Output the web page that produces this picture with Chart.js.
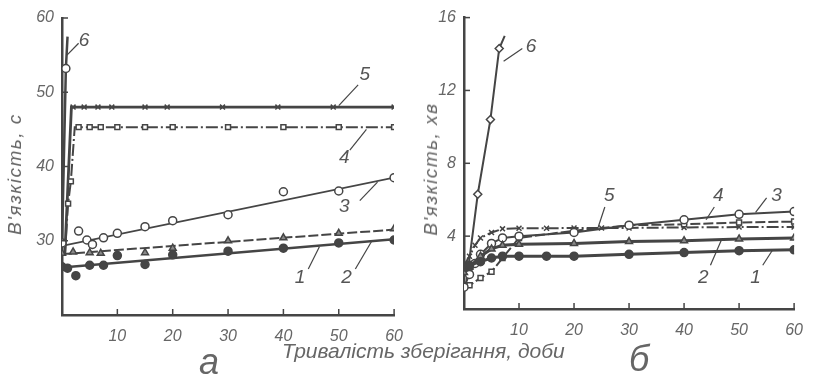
<!DOCTYPE html>
<html>
<head>
<meta charset="utf-8">
<script src="https://cdn.jsdelivr.net/npm/chart.js@4.4.0/dist/chart.umd.min.js"></script>
<style>
  body { margin: 0; background: #fff; width: 815px; height: 378px; overflow: hidden; position: relative; }
  canvas { position: absolute; top: 0; }
  .txt { position: absolute; font-family: "Liberation Sans", sans-serif; font-style: italic; color: #666; white-space: nowrap; }
  .ytitle { transform: translate(-50%, -50%) rotate(-90deg); font-size: 19px; letter-spacing: 1.5px; }
</style>
</head>
<body>
<canvas id="chartA" width="415" height="378" style="left:0"></canvas>
<canvas id="chartB" width="410" height="378" style="left:405px"></canvas>
<div class="txt ytitle" style="left:15px; top:174px;">В'язкість, с</div>
<div class="txt ytitle" style="left:431px; top:169px;">В'язкість, хв</div>
<div class="txt" style="left:282px; top:339px; font-size:21px;">Тривалість зберігання, доби</div>
<div class="txt" style="left:199px; top:341px; font-size:36px;">а</div>
<div class="txt" style="left:629px; top:338px; font-size:36px;">б</div>
<script>
// Панель а — в'язкість, с
const daysA1 = [0, 1, 2.5, 5, 7.5, 10, 15, 20, 30, 40, 50, 60];
const viscA1 = [26.5, 26.3, 25.3, 26.7, 26.7, 28.0, 26.8, 28.1, 28.6, 29.0, 29.7, 30.1];
const fitA1 = [26.4, 30.2];
const daysA2 = [0, 2, 5, 7, 15, 20, 30, 40, 50, 60];
const viscA2 = [28.3, 28.5, 28.4, 28.3, 28.4, 29.0, 30.0, 30.4, 31.0, 31.6];
const fitA2 = [28.2, 31.5];
const daysA3 = [0, 3, 4.5, 5.5, 7.5, 10, 15, 20, 30, 40, 50, 60];
const viscA3 = [29.7, 31.3, 30.1, 29.5, 30.4, 31.0, 31.9, 32.7, 33.5, 36.6, 36.7, 38.5];
const fitA3 = [29.3, 38.5];
const daysA4 = [0.5, 1.1, 1.6, 2.3, 3, 5, 7, 10, 15, 20, 30, 40, 50, 60];
const viscA4 = [28, 35, 38, 45.3, 45.3, 45.3, 45.3, 45.3, 45.3, 45.3, 45.3, 45.3, 45.3, 45.3];
const daysA5 = [0.5, 1.7, 2, 4, 6.5, 9, 15, 19, 29, 39, 49, 60];
const viscA5 = [28, 48, 48, 48, 48, 48, 48, 48, 48, 48, 48, 48];
const daysA6 = [0, 0.7, 1.0];
const viscA6 = [29.7, 53.2, 57.5];
const fitDays = [0, 60];

// Панель б — в'язкість, хв
const daysB1 = [0, 1, 3, 5, 7, 10, 15, 20, 30, 40, 50, 60];
const viscB1 = [2.3, 2.4, 2.6, 2.8, 2.9, 2.9, 2.9, 2.9, 3.0, 3.1, 3.2, 3.25];
const daysB2 = [0, 1, 3, 5, 7, 10, 20, 30, 40, 50, 60];
const viscB2 = [2.0, 2.3, 2.9, 3.3, 3.5, 3.55, 3.6, 3.7, 3.75, 3.85, 3.9];
const daysB3 = [0, 1, 2, 3, 5, 7, 10, 20, 30, 40, 50, 60];
const viscB3 = [1.2, 1.9, 2.5, 3.0, 3.6, 3.9, 4.0, 4.2, 4.6, 4.9, 5.2, 5.35];
const daysB4 = [0, 1, 3, 5, 7, 10, 20, 30, 40, 50, 60];
const viscB4 = [1.3, 1.3, 1.7, 2.05, 2.8, 3.9, 4.3, 4.6, 4.65, 4.75, 4.8];
const daysB5 = [0, 1, 2, 3, 5, 7, 10, 15, 20, 25, 30, 40, 50, 60];
const viscB5 = [2.4, 2.9, 3.5, 3.9, 4.2, 4.4, 4.43, 4.43, 4.45, 4.45, 4.45, 4.48, 4.5, 4.5];
const daysB6 = [0.5, 2.5, 4.8, 6.4, 7.4];
const viscB6 = [1.6, 6.3, 10.4, 14.3, 15];

// номери кривих: [текст, x, y, від x, від y, до x, до y]
const labelsA = [
  ["6", 4, 57, 3, 56.6, 0.9, 55],
  ["5", 54.7, 52.3, 53.5, 51, 50, 48.2],
  ["4", 51, 41.2, 52, 42.2, 55, 45],
  ["3", 51, 34.6, 53.8, 35.4, 57, 37.9],
  ["1", 43, 25, 44.5, 26.2, 46.5, 29.2],
  ["2", 51.4, 25, 53, 26.2, 56, 30],
];
const labelsB = [
  ["6", 12.2, 14.4, 10.6, 14.3, 7.2, 13.6],
  ["5", 26.4, 6.2, 25.6, 5.6, 24.4, 4.5],
  ["4", 46.2, 6.2, 45.5, 5.6, 44, 4.9],
  ["3", 56.8, 6.2, 55, 6.1, 53, 5.3],
  ["2", 43.5, 1.7, 44.8, 2.4, 46.8, 3.8],
  ["1", 53, 1.7, 54.3, 2.4, 56, 3.2],
];

const ink = "#454545";
const toXY = (xs, ys) => xs.map((x, i) => ({ x: x, y: ys[i] }));

function series(xs, ys, style, extra) {
  return Object.assign({
    data: toXY(xs, ys),
    showLine: true,
    borderColor: ink,
    borderWidth: 2,
    pointBorderColor: ink,
    pointBorderWidth: 1.5,
    pointBackgroundColor: "#fff",
    pointRadius: 4,
  }, style, extra || {});
}

const open = { pointStyle: "circle" };
const filled = { pointStyle: "circle", pointBackgroundColor: ink };
const tri = { pointStyle: "triangle", pointBackgroundColor: "#888" };
const square = { pointStyle: "rect", pointRadius: 3.5 };
const cross = { pointStyle: "crossRot", pointRadius: 3.5 };
const diamond = { pointStyle: "rectRot", pointRadius: 4 };
const noEnds = (n) => (ctx) => (ctx.dataIndex === 0 || ctx.dataIndex === n - 1 ? 0 : 4);

// Рисочки всередину осей і номери кривих
const axisMarks = {
  id: "axisMarks",
  afterDatasetsDraw(chart, args, options) {
    const { ctx, chartArea, scales } = chart;
    ctx.save();
    ctx.strokeStyle = ink;
    ctx.lineWidth = 1.5;
    scales.x.ticks.forEach((t) => {
      if (t.value === scales.x.min) return;
      const px = scales.x.getPixelForValue(t.value);
      ctx.beginPath();
      ctx.moveTo(px, chartArea.bottom);
      ctx.lineTo(px, chartArea.bottom - 6);
      ctx.stroke();
    });
    scales.y.ticks.forEach((t) => {
      if (t.value === scales.y.min) return;
      const py = scales.y.getPixelForValue(t.value);
      ctx.beginPath();
      ctx.moveTo(chartArea.left, py);
      ctx.lineTo(chartArea.left + 6, py);
      ctx.stroke();
    });
    ctx.fillStyle = "#555";
    ctx.font = "italic 19px 'Liberation Sans', sans-serif";
    ctx.textAlign = "center";
    ctx.textBaseline = "middle";
    ctx.lineWidth = 1.2;
    (options.items || []).forEach(([txt, x, y, x1, y1, x2, y2]) => {
      ctx.fillText(txt, scales.x.getPixelForValue(x), scales.y.getPixelForValue(y));
      ctx.beginPath();
      ctx.moveTo(scales.x.getPixelForValue(x1), scales.y.getPixelForValue(y1));
      ctx.lineTo(scales.x.getPixelForValue(x2), scales.y.getPixelForValue(y2));
      ctx.stroke();
    });
    ctx.restore();
  },
};

function baseOptions(yMin, yMax, yStep, yWidth, xHeight, padTop, items) {
  const tickFont = { family: "'Liberation Sans', sans-serif", style: "italic", size: 16 };
  return {
    responsive: false,
    animation: false,
    layout: { padding: { top: padTop, right: 10, left: 0, bottom: 0 } },
    plugins: { legend: { display: false }, tooltip: { enabled: false }, axisMarks: { items: items } },
    scales: {
      x: {
        type: "linear",
        min: 0,
        max: 60,
        afterFit: (s) => { s.height = xHeight; },
        grid: { display: true, drawOnChartArea: false, drawTicks: false },
        border: { display: true, color: ink, width: 2.5 },
        ticks: { stepSize: 10, padding: 12, color: "#666", font: tickFont, callback: (v) => (v === 0 ? "" : v) },
      },
      y: {
        min: yMin,
        max: yMax,
        afterFit: (s) => { s.width = yWidth; },
        grid: { display: true, drawOnChartArea: false, drawTicks: false },
        border: { display: true, color: ink, width: 2.5 },
        ticks: { stepSize: yStep, padding: 8, color: "#666", font: tickFont, callback: (v) => (v === yMin ? "" : v) },
      },
    },
  };
}

new Chart(document.getElementById("chartA"), {
  type: "scatter",
  plugins: [axisMarks],
  data: {
    datasets: [
      series(daysA1, viscA1, filled, { showLine: false }),
      series(fitDays, fitA1, filled, { pointRadius: 0, borderWidth: 2.5 }),
      series(daysA2, viscA2, tri, { showLine: false }),
      series(fitDays, fitA2, tri, { pointRadius: 0, borderDash: [10, 3] }),
      series(daysA3, viscA3, open, { showLine: false }),
      series(fitDays, fitA3, open, { pointRadius: 0, borderWidth: 1.8 }),
      series(daysA4, viscA4, square, { borderDash: [12, 3, 2, 3], pointRadius: (c) => (c.dataIndex === 0 || c.dataIndex === 3 ? 0 : 3.5) }),
      series(daysA5, viscA5, cross, { borderWidth: 2.8, pointRadius: (c) => (c.dataIndex < 2 ? 0 : 3.5) }),
      series(daysA6, viscA6, open, { borderWidth: 2.5, pointRadius: noEnds(daysA6.length) }),
    ],
  },
  options: baseOptions(20, 60, 10, 62, 63, 18, labelsA),
});

new Chart(document.getElementById("chartB"), {
  type: "scatter",
  plugins: [axisMarks],
  data: {
    datasets: [
      series(daysB1, viscB1, filled, { borderWidth: 3 }),
      series(daysB2, viscB2, tri, { borderWidth: 3 }),
      series(daysB3, viscB3, open),
      series(daysB4, viscB4, square, { borderDash: [10, 3] }),
      series(daysB5, viscB5, cross, { borderDash: [12, 3, 2, 3] }),
      series(daysB6, viscB6, diamond, { pointRadius: noEnds(daysB6.length) }),
    ],
  },
  options: baseOptions(0, 16, 4, 59, 69, 13, labelsB),
});
</script>
</body>
</html>
